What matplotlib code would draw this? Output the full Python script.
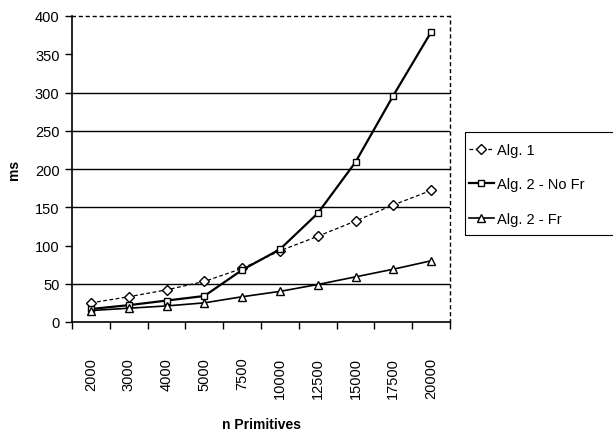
import numpy as np
import matplotlib.pyplot as plt
from matplotlib.patches import Rectangle

plt.rcParams['font.family'] = ['Liberation Sans', 'DejaVu Sans']

categories = ['2000', '3000', '4000', '5000', '7500', '10000', '12500', '15000', '17500', '20000']
alg1 = [25, 33, 42, 53, 70, 93, 112, 132, 153, 172]
alg2_nofr = [17, 22, 28, 34, 68, 95, 142, 209, 296, 379]
alg2_fr = [15, 18, 21, 25, 33, 40, 49, 59, 69, 80]
y_ticks = [0, 50, 100, 150, 200, 250, 300, 350, 400]
grid_lines = [50, 150, 200, 250, 300]

W, H = 613, 435
fig = plt.figure(figsize=(W / 100, H / 100), dpi=100)
ax = fig.add_axes([72 / W, 1 - 323 / H, 378 / W, 306 / H])

x = np.arange(len(categories))
ax.plot(x, alg1, color='black', lw=0.9, ls=(0, (3, 2)), marker='D', ms=5,
        mfc='white', mec='black', mew=1.0, label='Alg. 1')
ax.plot(x, alg2_nofr, color='black', lw=1.6, marker='s', ms=4,
        mfc='white', mec='black', mew=1.0, label='Alg. 2 - No Fr')
ax.plot(x, alg2_fr, color='black', lw=1.2, marker='^', ms=6,
        mfc='white', mec='black', mew=1.0, label='Alg. 2 - Fr')

for g in grid_lines:
    ax.axhline(g, color='black', lw=1.0, zorder=0)

ax.set_xlim(-0.5, len(categories) - 0.5)
ax.set_ylim(0, 400)
ax.set_yticks(y_ticks)
ax.set_xticks(np.arange(len(categories) + 1) - 0.5, minor=False)
ax.set_xticklabels([])
ax.set_xticks(x, minor=True)
ax.set_xticklabels(categories, minor=True, rotation=90, fontsize=10.5)
ax.tick_params(axis='x', which='minor', length=0, pad=25)
ax.tick_params(axis='x', which='major', length=5, direction='out', width=1)
ax.tick_params(axis='y', length=5, direction='out', width=1, labelsize=10.5, pad=4)

ax.spines['left'].set_linewidth(1.2)
ax.spines['bottom'].set_linestyle((0, (4, 1)))
ax.spines['bottom'].set_linewidth(1.2)
for s in ['top', 'right']:
    ax.spines[s].set_linestyle((0, (2, 3)))
    ax.spines[s].set_linewidth(1.0)

ax.set_ylabel('ms', fontsize=10, fontweight='bold', labelpad=10)
ax.set_xlabel('n Primitives', fontsize=10, fontweight='bold', labelpad=14)

# legend box runs off the right edge of the picture
fig.patches.append(Rectangle((465 / W, 1 - 236 / H), 160 / W, 103 / H,
                             transform=fig.transFigure, fill=False,
                             edgecolor='black', lw=0.8))
leg = fig.legend(loc='upper left', bbox_to_anchor=(466 / W, 1 - 141 / H),
                 fontsize=10.5, frameon=False,
                 handlelength=1.7, handletextpad=0.2, borderpad=0.2, labelspacing=1.4,
                 borderaxespad=0)

fig.savefig('out.png', dpi=100)
